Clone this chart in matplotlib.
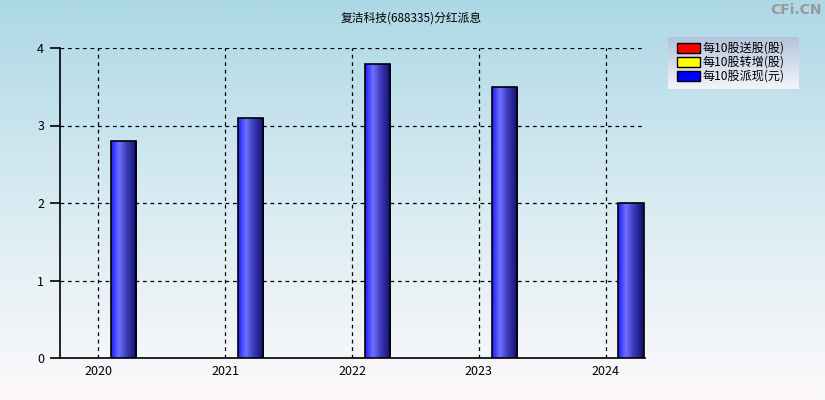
import matplotlib
matplotlib.use('Agg')
import matplotlib.pyplot as plt
import numpy as np
from matplotlib.colors import LinearSegmentedColormap
from matplotlib.patches import Rectangle

plt.rcParams['font.family'] = ['Noto Sans CJK SC', 'DejaVu Sans']

# data
years = [2020, 2021, 2022, 2023, 2024]
cash_per10 = [2.8, 3.1, 3.8, 3.5, 2.0]      # 每10股派现(元)
bonus_per10 = [0, 0, 0, 0, 0]               # 每10股送股(股)
transfer_per10 = [0, 0, 0, 0, 0]            # 每10股转增(股)
legend_labels = ['每10股送股(股)', '每10股转增(股)', '每10股派现(元)']
legend_colors = ['#ff0000', '#ffff00', '#0000ff']
title = '复洁科技(688335)分红派息'

fig = plt.figure(figsize=(8.25, 4), dpi=100)

# background gradient over the whole figure
bg = fig.add_axes([0, 0, 1, 1], zorder=-10)
bg_cmap = LinearSegmentedColormap.from_list('bg', ['#add8e6', '#d8ebf2', '#fdf9fb'])
bg.imshow(np.linspace(0, 1, 256).reshape(-1, 1), aspect='auto', cmap=bg_cmap,
          extent=[0, 1, 0, 1])
bg.axis('off')

ax = fig.add_axes([59.5 / 825, 42 / 400, 585 / 825, 310 / 400])
ax.patch.set_alpha(0)

bar_cmap = LinearSegmentedColormap.from_list(
    'bar', [(0, '#1c1cff'), (0.3, '#7070ff'), (0.6, '#3c3cbc'), (1, '#10106a')])
grad = np.linspace(0, 1, 64).reshape(1, -1)

bars = ax.bar([y + 0.1 for y in years], cash_per10, width=0.2, align='edge',
              color='none', edgecolor='black', linewidth=1.2, zorder=4)
for b in bars:
    x0, y0 = b.get_x(), b.get_y()
    w, h = b.get_width(), b.get_height()
    im = ax.imshow(grad, cmap=bar_cmap, aspect='auto',
                   extent=[x0, x0 + w, y0, y0 + h], zorder=3)
    clip = Rectangle((x0, y0), w, h, transform=ax.transData)
    im.set_clip_path(clip)

ax.set_xlim(2019.695, 2024.305)
ax.set_ylim(0, 4)
ax.set_xticks(years)
ax.set_xticklabels([str(y) for y in years])
ax.set_yticks([0, 1, 2, 3, 4])
ax.grid(True, color='black', linestyle=(0, (3, 3)), linewidth=0.9, zorder=1)
ax.set_axisbelow(True)
for s in ['top', 'right']:
    ax.spines[s].set_visible(False)
for s in ['left', 'bottom']:
    ax.spines[s].set_linewidth(1.2)
ax.tick_params(axis='x', length=0, pad=5, labelsize=9)
ax.tick_params(axis='y', length=7, width=1.2, pad=4, labelsize=9)

fig.text(411 / 825, 1 - 18 / 400, title, ha='center', va='center', fontsize=8.5)
fig.text(822 / 825, 1 - 10 / 400, 'CFi.CN', ha='right', va='center', fontsize=10,
         color='#999999', fontweight='bold', family='DejaVu Sans')

# legend box with its own gradient
lg = fig.add_axes([668 / 825, 1 - 89 / 400, 131 / 825, 52 / 400])
lg_cmap = LinearSegmentedColormap.from_list('lg', ['#b4c4dc', '#f4f4f8'])
lg.imshow(np.linspace(0, 1, 64).reshape(-1, 1), aspect='auto', cmap=lg_cmap,
          extent=[0, 131, 52, 0])
lg.set_xlim(0, 131)
lg.set_ylim(52, 0)
lg.axis('off')
for i, (lab, col) in enumerate(zip(legend_labels, legend_colors)):
    yc = 11 + i * 14
    lg.add_patch(Rectangle((9, yc - 5), 23, 10, facecolor=col, edgecolor='black',
                           linewidth=1))
    lg.text(35, yc, lab, va='center', ha='left', fontsize=8.7)

fig.savefig('out.png', dpi=100)
